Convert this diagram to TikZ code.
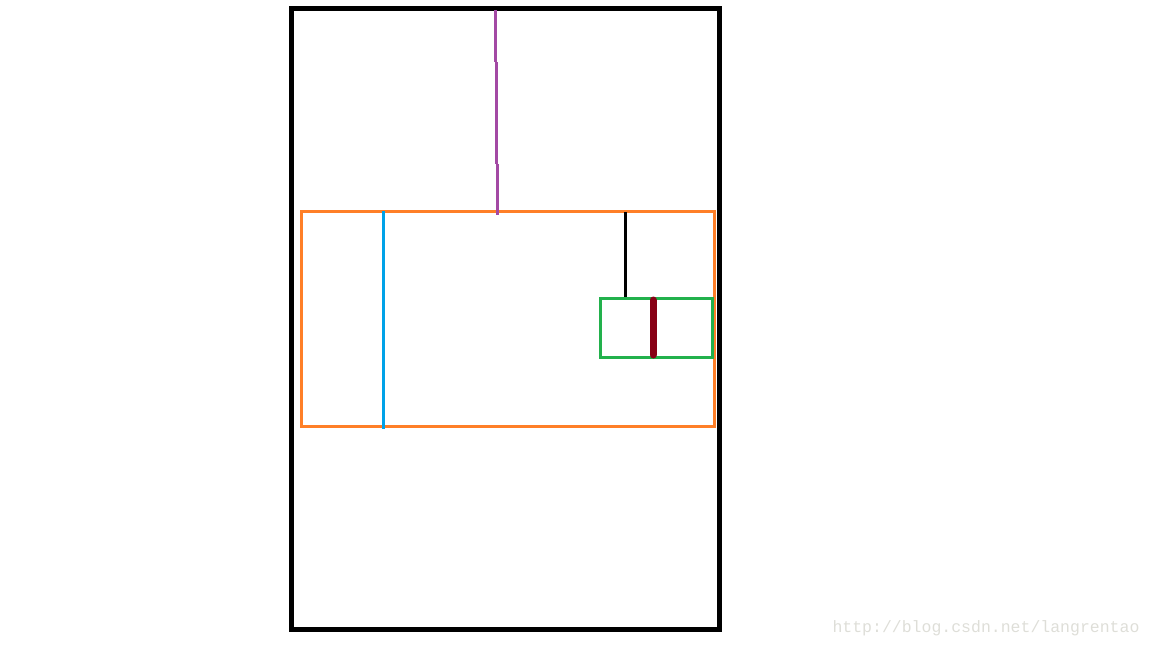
\documentclass[tikz,border=0pt]{standalone}
\usepackage{fontspec}
\newfontfamily\markfont{Liberation Mono}
\definecolor{paintorange}{RGB}{255,127,39}
\definecolor{paintblue}{RGB}{0,162,232}
\definecolor{paintpurple}{RGB}{163,73,164}
\definecolor{paintgreen}{RGB}{34,177,76}
\definecolor{paintmaroon}{RGB}{136,0,21}
\definecolor{markgray}{RGB}{222,222,216}
\begin{document}
\begin{tikzpicture}[x=1pt,y=-1pt]
    \tikzstyle{every node}+=[inner sep=0pt]
    \useasboundingbox (0,0) rectangle (1152,648);
    \draw [black, line width=5pt] (291.5,8.5) rectangle (719.5,629.5);
    \draw [paintorange, line width=3pt] (301,211) rectangle (714,426);
    \draw [paintblue, line width=3pt] (383.5,211) -- (383.5,429);
    \draw [paintpurple, line width=3pt] (495,10) -- (495,62);
    \draw [paintpurple, line width=3pt] (496,62) -- (496,164);
    \draw [paintpurple, line width=3pt] (497,164) -- (497,215);
    \draw [black, line width=2.5pt] (625.5,212) -- (625.5,298);
    \draw [paintgreen, line width=3pt] (600.5,298.5) rectangle (712,357);
    \draw [paintmaroon, line width=7pt, line cap=round] (653,300) -- (653,355);
    \node (mark) at (986,628) {\markfont\fontsize{16.5}{18}\selectfont\color{markgray}http://blog.csdn.net/langrentao};
\end{tikzpicture}
\end{document}
